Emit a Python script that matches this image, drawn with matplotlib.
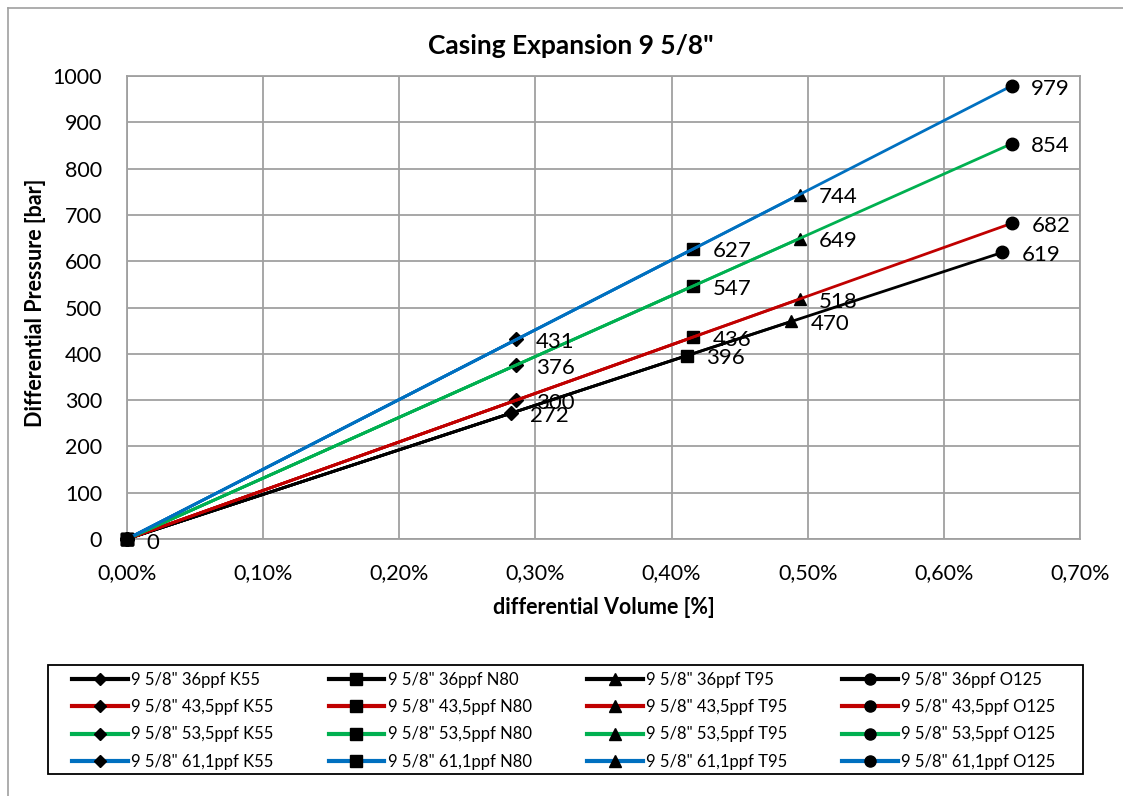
import matplotlib
matplotlib.use("Agg")
import matplotlib.pyplot as plt
from matplotlib.lines import Line2D
from matplotlib.patches import Rectangle
from matplotlib.ticker import FuncFormatter, MultipleLocator

plt.rcParams["font.family"] = ["Lato", "DejaVu Sans"]

# weights (ppf) and grades
weights = ["36", "43,5", "53,5", "61,1"]
grades = ["K55", "N80", "T95", "O125"]
colors = ["#000000", "#C00000", "#00B050", "#0070C0"]
markers = ["D", "s", "^", "o"]

# differential volume [%] per weight, one value per grade
vol_36 = [0.282, 0.411, 0.488, 0.643]
vol_435 = [0.286, 0.416, 0.494, 0.650]
vol_535 = [0.286, 0.416, 0.494, 0.650]
vol_611 = [0.286, 0.416, 0.494, 0.650]

# differential pressure [bar]
p_36 = [272, 396, 470, 619]
p_435 = [300, 436, 518, 682]
p_535 = [376, 547, 649, 854]
p_611 = [431, 627, 744, 979]

vols = [vol_36, vol_435, vol_535, vol_611]
press = [p_36, p_435, p_535, p_611]

W, H = 1123, 796
fig = plt.figure(figsize=(W / 100, H / 100), dpi=100)

# outer chart frame
fig.add_artist(Line2D([8 / W, 8 / W], [0, 1 - 8 / H], color="#A0A0A0", lw=1.2, transform=fig.transFigure))
fig.add_artist(Line2D([8 / W, 1], [1 - 8 / H, 1 - 8 / H], color="#A0A0A0", lw=1.2, transform=fig.transFigure))

ax = fig.add_axes([127 / W, 1 - 539 / H, (1080 - 127) / W, (539 - 76) / H])

for i, w in enumerate(weights):
    for j, g in enumerate(grades):
        x = [0, vols[i][j]]
        y = [0, press[i][j]]
        ax.plot(x, y, color=colors[i], lw=2.0, marker=markers[j], markersize=9 if markers[j] != "D" else 7,
                markerfacecolor="black", markeredgecolor="black", clip_on=False, zorder=3)
        ax.annotate(str(press[i][j]), (vols[i][j], press[i][j]), xytext=(14, -2), textcoords="offset points",
                    ha="left", va="center", fontsize=16, color="black", zorder=4)

ax.annotate("0", (0, 0), xytext=(14, -3), textcoords="offset points", ha="left", va="center",
            fontsize=16, color="black", zorder=4)

ax.set_xlim(0, 0.70)
ax.set_ylim(0, 1000)
ax.xaxis.set_major_locator(MultipleLocator(0.1))
ax.yaxis.set_major_locator(MultipleLocator(100))
ax.xaxis.set_major_formatter(FuncFormatter(lambda v, p: f"{v:.2f}%".replace(".", ",")))
ax.grid(True, color="#A0A0A0", lw=1.3)
ax.set_axisbelow(True)
for s in ax.spines.values():
    s.set_color("#A0A0A0")
    s.set_linewidth(1.3)
ax.tick_params(length=0, labelsize=15.5)
ax.tick_params(axis="x", pad=17)
ax.tick_params(axis="y", pad=18)

fig.text(571 / W, 1 - 46 / H, "Casing Expansion 9 5/8\"", fontsize=19, fontweight="bold",
         ha="center", va="center")
fig.text(604 / W, 1 - 607 / H, "differential Volume [%]", fontsize=15.5, fontweight="bold",
         ha="center", va="center")
fig.text(36 / W, 1 - 303 / H, "Differential Pressure [bar]", fontsize=15.5, fontweight="bold",
         ha="center", va="center", rotation=90)

# legend: rows = weights, columns = grades (matplotlib fills column-wise)
handles, labels = [], []
for j, g in enumerate(grades):
    for i, w in enumerate(weights):
        handles.append(Line2D([], [], color=colors[i], lw=3, marker=markers[j],
                              markersize=8 if markers[j] != "D" else 6,
                              markerfacecolor="black", markeredgecolor="black"))
        labels.append(f"9 5/8\" {w}ppf {g}")

fig.add_artist(Rectangle((48 / W, 1 - 774 / H), (1083 - 48) / W, (774 - 665) / H,
                         transform=fig.transFigure, fill=False, edgecolor="black", lw=1.3))
fig.legend(handles, labels, ncol=4, loc="upper left",
           bbox_to_anchor=(72 / W, 1 - 672 / H),
           fontsize=12, frameon=False, handlelength=3.35, handletextpad=0.2,
           columnspacing=3.3, labelspacing=0.67, borderaxespad=0, borderpad=0)

fig.savefig("out.png", dpi=100)
